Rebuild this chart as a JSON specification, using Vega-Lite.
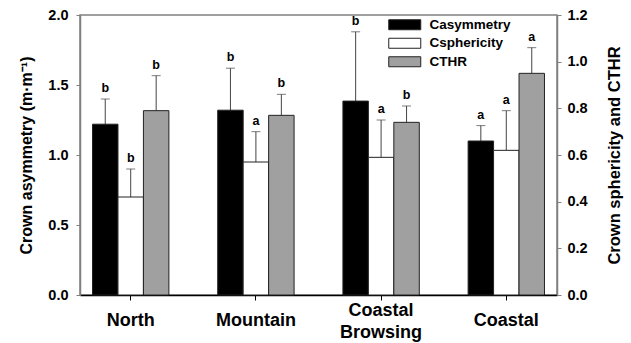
{
  "$schema": "https://vega.github.io/schema/vega-lite/v6.json",
  "width": 477,
  "height": 280,
  "autosize": "none",
  "padding": {"left": 80, "top": 15, "right": 74, "bottom": 48},
  "config": {
    "font": "Liberation Sans",
    "view": {"stroke": "#808080", "strokeWidth": 1.5},
    "axis": {"grid": false, "labelFont": "Liberation Sans", "titleFont": "Liberation Sans", "labelFontWeight": "bold", "titleFontWeight": "bold", "labelColor": "black", "titleColor": "black"}
  },
  "data": {
    "values": [
      {"group": "North", "series": "Casymmetry", "value": 1.22, "upper": 1.40, "letter": "b"},
      {"group": "North", "series": "Csphericity", "value": 0.42, "upper": 0.54, "letter": "b"},
      {"group": "North", "series": "CTHR", "value": 0.79, "upper": 0.94, "letter": "b"},
      {"group": "Mountain", "series": "Casymmetry", "value": 1.32, "upper": 1.62, "letter": "b"},
      {"group": "Mountain", "series": "Csphericity", "value": 0.57, "upper": 0.70, "letter": "a"},
      {"group": "Mountain", "series": "CTHR", "value": 0.77, "upper": 0.86, "letter": "b"},
      {"group": "Coastal Browsing", "series": "Casymmetry", "value": 1.385, "upper": 1.88, "letter": "b"},
      {"group": "Coastal Browsing", "series": "Csphericity", "value": 0.59, "upper": 0.75, "letter": "a"},
      {"group": "Coastal Browsing", "series": "CTHR", "value": 0.74, "upper": 0.81, "letter": "b"},
      {"group": "Coastal", "series": "Casymmetry", "value": 1.10, "upper": 1.21, "letter": "a"},
      {"group": "Coastal", "series": "Csphericity", "value": 0.62, "upper": 0.79, "letter": "a"},
      {"group": "Coastal", "series": "CTHR", "value": 0.95, "upper": 1.06, "letter": "a"}
    ]
  },
  "encoding": {
    "x": {
      "field": "group", "type": "nominal",
      "sort": ["North", "Mountain", "Coastal Browsing", "Coastal"],
      "scale": {"paddingInner": 0.39, "paddingOuter": 0.1},
      "axis": {
        "title": null, "labelAngle": 0, "labelFontSize": 18,
        "labelBaseline": "middle",
        "labelPadding": {"condition": {"test": "datum.value == 'Coastal Browsing'", "value": 10}, "value": 20},
        "labelLineHeight": 22, "tickSize": 5, "tickColor": "black",
        "domainColor": "black", "domainWidth": 1.5,
        "labelExpr": "datum.value == 'Coastal Browsing' ? ['Coastal', 'Browsing'] : datum.value"
      }
    },
    "xOffset": {
      "field": "series", "type": "nominal",
      "scale": {"domain": ["Casymmetry", "Csphericity", "CTHR"], "paddingInner": 0, "paddingOuter": 0}
    }
  },
  "layer": [
    {
      "transform": [{"filter": "datum.series == 'Casymmetry'"}],
      "layer": [
        {
          "mark": {"type": "rule", "color": "#444444", "strokeWidth": 1},
          "encoding": {
            "y": {"field": "value", "type": "quantitative", "scale": {"domain": [0, 2]}, "title": "Crown asymmetry (m·m⁻¹)",
              "axis": {"orient": "left", "values": [0, 0.5, 1, 1.5, 2], "format": ".1f", "labelFontSize": 14.5, "titleFontSize": 16, "tickSize": 4, "tickColor": "#808080", "domainColor": "#808080", "domainWidth": 1.5, "labelPadding": 8, "titlePadding": 13}},
            "y2": {"field": "upper"}
          }
        },
        {
          "mark": {"type": "tick", "color": "#444444", "thickness": 1, "size": 9},
          "encoding": {
            "y": {"field": "upper", "type": "quantitative", "title": "Crown asymmetry (m·m⁻¹)"}
          }
        },
        {
          "mark": {"type": "bar", "stroke": "#222222", "strokeWidth": 1},
          "encoding": {
            "y": {"field": "value", "type": "quantitative", "title": "Crown asymmetry (m·m⁻¹)"},
            "color": {
              "field": "series", "type": "nominal",
              "scale": {"domain": ["Casymmetry", "Csphericity", "CTHR"], "range": ["#000000", "#ffffff", "#a0a0a0"]},
              "legend": {
                "title": null, "orient": "none", "legendX": 318, "legendY": 3,
                "symbolType": "M-3.2,-1H3.2V1H-3.2Z", "symbolSize": 100, "symbolStrokeColor": "#222222", "symbolStrokeWidth": 1,
                "labelFontSize": 13.5, "labelFontWeight": "bold", "labelFont": "Liberation Sans", "labelColor": "black", "labelOffset": 18, "rowPadding": 3.5
              }
            }
          }
        },
        {
          "mark": {"type": "text", "baseline": "bottom", "dy": -4, "fontSize": 12.5, "fontWeight": "bold", "font": "Liberation Sans"},
          "encoding": {
            "y": {"field": "upper", "type": "quantitative", "title": "Crown asymmetry (m·m⁻¹)"},
            "text": {"field": "letter"}
          }
        }
      ]
    },
    {
      "transform": [{"filter": "datum.series != 'Casymmetry'"}],
      "layer": [
        {
          "mark": {"type": "rule", "color": "#444444", "strokeWidth": 1},
          "encoding": {
            "y": {"field": "value", "type": "quantitative", "scale": {"domain": [0, 1.2]}, "title": "Crown sphericity and CTHR",
              "axis": {"orient": "right", "values": [0, 0.2, 0.4, 0.6, 0.8, 1.0, 1.2], "format": ".1f", "labelFontSize": 14.5, "titleFontSize": 16.5, "tickSize": 4, "tickColor": "#808080", "domainColor": "#808080", "domainWidth": 1.5, "labelPadding": 6, "titlePadding": 19, "titleAngle": 270, "titleBaseline": "top"}},
            "y2": {"field": "upper"}
          }
        },
        {
          "mark": {"type": "tick", "color": "#444444", "thickness": 1, "size": 9},
          "encoding": {
            "y": {"field": "upper", "type": "quantitative", "title": "Crown sphericity and CTHR"}
          }
        },
        {
          "mark": {"type": "bar", "stroke": "#222222", "strokeWidth": 1},
          "encoding": {
            "y": {"field": "value", "type": "quantitative", "title": "Crown sphericity and CTHR"},
            "color": {"field": "series", "type": "nominal"}
          }
        },
        {
          "mark": {"type": "text", "baseline": "bottom", "dy": -4, "fontSize": 12.5, "fontWeight": "bold", "font": "Liberation Sans"},
          "encoding": {
            "y": {"field": "upper", "type": "quantitative", "title": "Crown sphericity and CTHR"},
            "text": {"field": "letter"}
          }
        }
      ]
    }
  ],
  "resolve": {"scale": {"y": "independent"}, "axis": {"y": "independent"}}
}
